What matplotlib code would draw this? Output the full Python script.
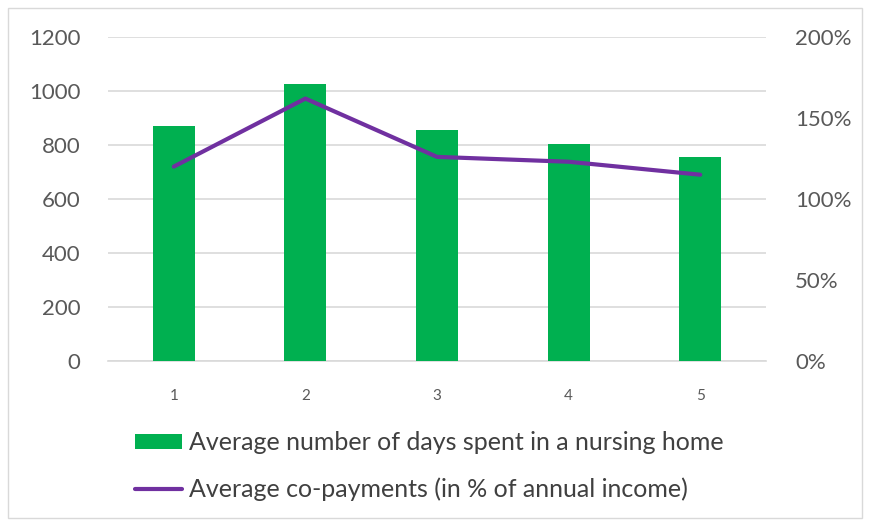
import matplotlib
matplotlib.use('Agg')
import matplotlib.pyplot as plt
from matplotlib.patches import Rectangle
from matplotlib.ticker import FuncFormatter

plt.rcParams['font.family'] = ['Lato', 'DejaVu Sans']

# data
categories = ['1', '2', '3', '4', '5']
days_in_home = [870, 1025, 857, 802, 757]
copay_pct = [120, 162, 126, 123, 115]

bar_label = 'Average number of days spent in a nursing home'
line_label = 'Average co-payments (in % of annual income)'

green = '#00B050'
purple = '#7030A0'
text_grey = '#595959'
grid_grey = '#D9D9D9'

fig = plt.figure(figsize=(8.7, 5.24), dpi=100)
ax = fig.add_axes([108 / 870, 163 / 524, 658 / 870, 324 / 524])
ax2 = ax.twinx()

x = range(len(categories))
bars = ax.bar(x, days_in_home, width=0.32, color=green, zorder=3, label=bar_label)
line, = ax2.plot(x, copay_pct, color=purple, linewidth=3, solid_capstyle='round',
                 zorder=4, label=line_label)

ax.set_xlim(-0.5, len(categories) - 0.5)
ax.set_ylim(0, 1200)
ax.set_yticks(range(0, 1201, 200))
ax2.set_ylim(0, 200)
ax2.set_yticks(range(0, 201, 50))
ax2.yaxis.set_major_formatter(FuncFormatter(lambda v, p: f'{v:.0f}%'))

ax.set_xticks(list(x))
ax.set_xticklabels(categories)

ax.grid(axis='y', color=grid_grey, linewidth=1.2, zorder=0)
ax.set_axisbelow(True)
for a in (ax, ax2):
    for s in a.spines.values():
        s.set_visible(False)
ax.spines['bottom'].set_visible(True)
ax.spines['bottom'].set_color(grid_grey)
ax.spines['bottom'].set_linewidth(1.2)

ax.tick_params(axis='y', length=0, labelsize=16, labelcolor=text_grey, pad=20)
ax.tick_params(axis='x', length=0, labelsize=11, labelcolor=text_grey, pad=20)
ax2.tick_params(axis='y', length=0, labelsize=16, labelcolor=text_grey, pad=21)

# put line above bars
ax2.set_zorder(ax.get_zorder() + 1)
ax2.patch.set_visible(False)

fig.legend(handles=[bars, line], labels=[bar_label, line_label],
           loc='upper left', bbox_to_anchor=(125 / 870, 1 - 421 / 524),
           frameon=False, fontsize=18, labelcolor='#404040',
           handlelength=1.9, handleheight=0.55, handletextpad=0.28,
           labelspacing=0.95, borderaxespad=0)

# outer chart border
fig.patches.append(Rectangle((8 / 870, 6 / 524), 854 / 870, 510 / 524,
                             transform=fig.transFigure, fill=False,
                             edgecolor='#D9D9D9', linewidth=1))

fig.savefig('out.png', dpi=100)
